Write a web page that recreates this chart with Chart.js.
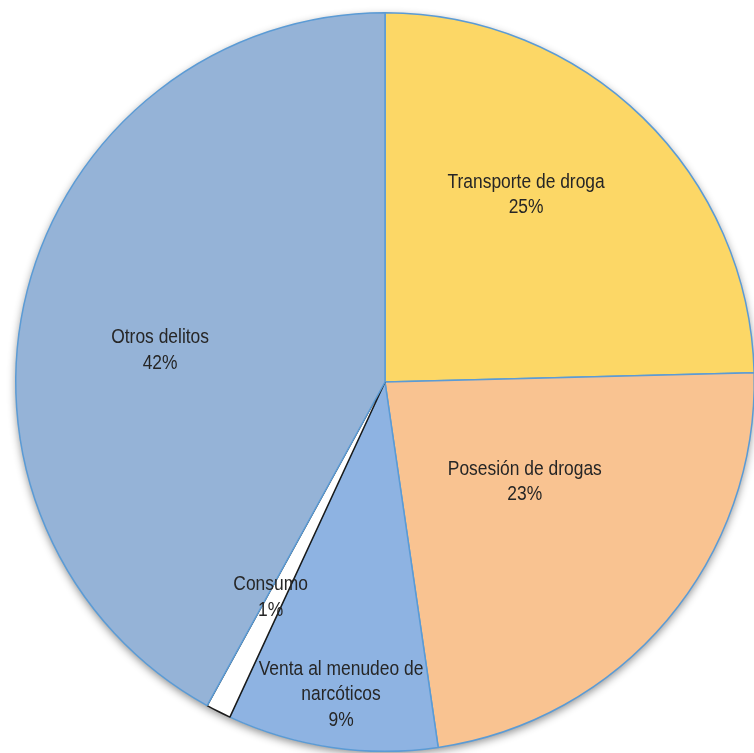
<!DOCTYPE html>
<html>
<head>
<meta charset="utf-8">
<script src="https://cdn.jsdelivr.net/npm/chart.js@4/dist/chart.umd.min.js"></script>
<style>
  html, body { margin: 0; padding: 0; background: #fff; overflow: hidden; }
  #wrap { position: absolute; left: 0; top: 0; width: 770px; height: 764px; }
</style>
</head>
<body>
<div id="wrap"><canvas id="chart-pie"></canvas></div>
<script>
// Delitos por tipo (%)
const categories = ['Transporte de droga', 'Posesión de drogas', 'Venta al menudeo de narcóticos', 'Consumo', 'Otros delitos'];
const labelLines = [
    ['Transporte de droga'],
    ['Posesión de drogas'],
    ['Venta al menudeo de', 'narcóticos'],
    ['Consumo'],
    ['Otros delitos']
];
const shares = [24.6, 23.1, 9.2, 1.1, 42.0];
const shownPct = ['25%', '23%', '9%', '1%', '42%'];

const fills = ['#FCD766', '#F9C391', '#8EB3E2', '#FFFFFF', '#95B3D7'];
const edges = ['#5B9BD5', '#5B9BD5', '#5B9BD5', '#1a1a1a', '#5B9BD5'];

// label anchor: [angle from 12 o'clock in degrees, fraction of radius]
const labelAnchor = [[37, 0.635], [125.5, 0.465], [188, 0.855], [208, 0.66], [278, 0.615]];

const pieShadow = {
    id: 'pieShadow',
    beforeDatasetsDraw(chart) {
        const arc = chart.getDatasetMeta(0).data[0];
        if (!arc) return;
        const ctx = chart.ctx;
        ctx.save();
        ctx.shadowColor = 'rgba(0,0,0,0.45)';
        ctx.shadowBlur = 8;
        ctx.shadowOffsetY = 3;
        ctx.fillStyle = '#fff';
        ctx.beginPath();
        ctx.arc(arc.x, arc.y, arc.outerRadius, 0, Math.PI * 2);
        ctx.fill();
        ctx.restore();
    }
};

// narrow-looking text: Liberation Sans squeezed horizontally
const sliceLabels = {
    id: 'sliceLabels',
    afterDatasetsDraw(chart) {
        const arcs = chart.getDatasetMeta(0).data;
        const ctx = chart.ctx;
        const squeeze = 0.85;
        ctx.save();
        ctx.font = '20.5px "Liberation Sans", Arial, sans-serif';
        ctx.fillStyle = '#262626';
        ctx.textAlign = 'center';
        ctx.textBaseline = 'middle';
        arcs.forEach((arc, i) => {
            const a = labelAnchor[i][0] * Math.PI / 180;
            const r = arc.outerRadius * labelAnchor[i][1];
            const x = arc.x + Math.sin(a) * r;
            const y = arc.y - Math.cos(a) * r;
            const lines = labelLines[i].concat([shownPct[i]]);
            const lh = 25.5;
            const top = y - (lines.length - 1) * lh / 2;
            lines.forEach((t, k) => {
                ctx.save();
                ctx.translate(x, top + k * lh);
                ctx.scale(squeeze, 1);
                ctx.fillText(t, 0, 0);
                ctx.restore();
            });
        });
        ctx.restore();
    }
};

new Chart(document.getElementById('chart-pie'), {
    type: 'pie',
    data: {
        labels: categories,
        datasets: [{
            data: shares,
            backgroundColor: fills,
            borderColor: edges,
            borderWidth: 1.5
        }]
    },
    options: {
        responsive: true,
        maintainAspectRatio: false,
        animation: false,
        layout: { padding: 12 },
        plugins: {
            legend: { display: false },
            tooltip: { enabled: false }
        }
    },
    plugins: [pieShadow, sliceLabels]
});
</script>
</body>
</html>
